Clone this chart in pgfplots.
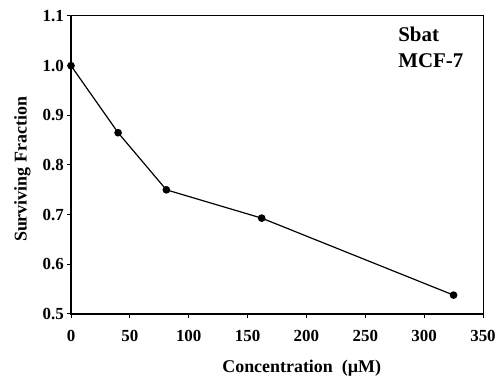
\documentclass[border=0pt]{standalone}
\usepackage{fontspec}
\setmainfont{Liberation Serif}
\usepackage{pgfplots}
\pgfplotsset{compat=1.18}
\begin{document}
\begin{tikzpicture}
\begin{axis}[
  scale only axis,
  width=412bp, height=298bp,
  xmin=0, xmax=350, ymin=0.5, ymax=1.1,
  xtick={0,50,...,350},
  ytick={0.5,0.6,...,1.1},
  /pgf/number format/assume math mode=true,
  tick align=outside, xtick pos=bottom, ytick pos=left,
  major tick length=4bp,
  tick style={black, line width=1pt},
  axis line style={line width=1pt},
  ticklabel style={font=\fontsize{17}{19}\selectfont\bfseries},
  xticklabel style={inner sep=0pt, anchor=north, yshift=-12bp},
  yticklabel style={inner sep=0pt, anchor=east, xshift=-3bp,
    /pgf/number format/fixed, /pgf/number format/fixed zerofill, /pgf/number format/precision=1},
  xlabel={Concentration\ \ (µM)},
  ylabel={Surviving Fraction},
  label style={font=\fontsize{18}{20}\selectfont\bfseries},
  xlabel style={at={(axis description cs:0.56,-0.198)}, anchor=base},
  ylabel style={at={(axis description cs:-0.108,0.485)}, anchor=base},
  clip=false,
]
\addplot[black, line width=1.2pt, mark=*, mark size=3.2bp] coordinates {
  (0,1.0) (40,0.865) (81,0.750) (162,0.693) (325,0.538)
};
\draw[line width=2pt] (rel axis cs:0,1) -- (rel axis cs:0,0) -- (rel axis cs:1,0);
\node[anchor=north west, align=left, font=\fontsize{21}{26}\selectfont\bfseries, inner sep=0pt] at (rel axis cs:0.794,0.963) {Sbat\\MCF-7};
\coordinate (ll) at (rel axis cs:0,0);
\coordinate (ur) at (rel axis cs:1,1);
\end{axis}
\pgfresetboundingbox
\path ([xshift=-71bp,yshift=-65bp]ll) rectangle ([xshift=17bp,yshift=16bp]ur);
\end{tikzpicture}
\end{document}
